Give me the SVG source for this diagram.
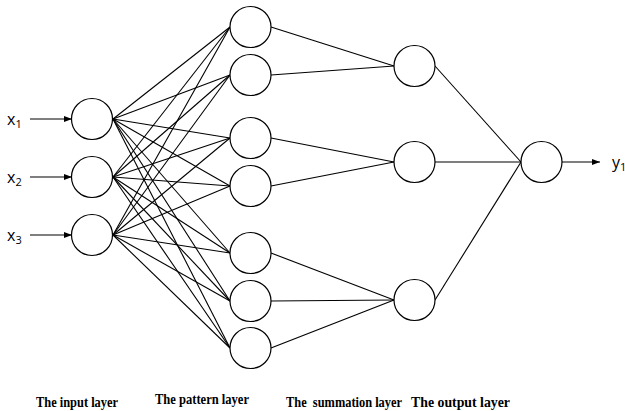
<svg xmlns="http://www.w3.org/2000/svg" width="625" height="411" viewBox="0 0 625 411">
<style>
.n{fill:#fff;stroke:#000;stroke-width:1.2}
.c line{stroke:#000;stroke-width:1.1}
.lab{font-family:"Liberation Serif",serif;font-weight:bold;font-size:14px;fill:#000;white-space:pre}
.v{font-family:"Open Sans","Liberation Sans",sans-serif;font-size:16px;fill:#000}
.s{font-size:11px}
</style>
<defs>
<marker id="ah" viewBox="0 0 8 8" refX="8" refY="4" markerWidth="8" markerHeight="8" markerUnits="userSpaceOnUse" orient="auto">
<path d="M0,1 L8,4 L0,7 Z" fill="#000"/>
</marker>
</defs>
<rect width="625" height="411" fill="#fff"/>
<g class="c" id="connectors">
<line x1="30" y1="119" x2="72" y2="119" marker-end="url(#ah)"/>
<line x1="30" y1="177" x2="72" y2="177" marker-end="url(#ah)"/>
<line x1="30" y1="235" x2="72" y2="235" marker-end="url(#ah)"/>
<line x1="113" y1="119" x2="230" y2="27"/>
<line x1="113" y1="119" x2="230" y2="75"/>
<line x1="113" y1="119" x2="230" y2="138"/>
<line x1="113" y1="119" x2="230" y2="186"/>
<line x1="113" y1="119" x2="230" y2="253"/>
<line x1="113" y1="119" x2="230" y2="301"/>
<line x1="113" y1="119" x2="230" y2="348"/>
<line x1="113" y1="177" x2="230" y2="27"/>
<line x1="113" y1="177" x2="230" y2="75"/>
<line x1="113" y1="177" x2="230" y2="138"/>
<line x1="113" y1="177" x2="230" y2="186"/>
<line x1="113" y1="177" x2="230" y2="253"/>
<line x1="113" y1="177" x2="230" y2="301"/>
<line x1="113" y1="177" x2="230" y2="348"/>
<line x1="113" y1="235" x2="230" y2="27"/>
<line x1="113" y1="235" x2="230" y2="75"/>
<line x1="113" y1="235" x2="230" y2="138"/>
<line x1="113" y1="235" x2="230" y2="186"/>
<line x1="113" y1="235" x2="230" y2="253"/>
<line x1="113" y1="235" x2="230" y2="301"/>
<line x1="113" y1="235" x2="230" y2="348"/>
<line x1="271" y1="27" x2="394" y2="66"/>
<line x1="271" y1="75" x2="394" y2="66"/>
<line x1="271" y1="138" x2="394" y2="162"/>
<line x1="271" y1="186" x2="394" y2="162"/>
<line x1="271" y1="253" x2="394" y2="300"/>
<line x1="271" y1="301" x2="394" y2="300"/>
<line x1="271" y1="348" x2="394" y2="300"/>
<line x1="435" y1="66" x2="521" y2="162"/>
<line x1="435" y1="162" x2="521" y2="162"/>
<line x1="435" y1="300" x2="521" y2="162"/>
<line x1="562" y1="162" x2="600" y2="162" marker-end="url(#ah)"/>
</g>
<g id="input1"><circle class="n" cx="92" cy="119" r="20.5"/></g>
<g id="input2"><circle class="n" cx="92" cy="177" r="20.5"/></g>
<g id="input3"><circle class="n" cx="92" cy="235" r="20.5"/></g>
<g id="pattern1"><circle class="n" cx="250.5" cy="27" r="20.5"/></g>
<g id="pattern2"><circle class="n" cx="250.5" cy="75" r="20.5"/></g>
<g id="pattern3"><circle class="n" cx="250.5" cy="138" r="20.5"/></g>
<g id="pattern4"><circle class="n" cx="250.5" cy="186" r="20.5"/></g>
<g id="pattern5"><circle class="n" cx="250.5" cy="253" r="20.5"/></g>
<g id="pattern6"><circle class="n" cx="250.5" cy="301" r="20.5"/></g>
<g id="pattern7"><circle class="n" cx="250.5" cy="348" r="20.5"/></g>
<g id="sum1"><circle class="n" cx="414.5" cy="66" r="20.5"/></g>
<g id="sum2"><circle class="n" cx="414.5" cy="162" r="20.5"/></g>
<g id="sum3"><circle class="n" cx="414.5" cy="300" r="20.5"/></g>
<g id="output"><circle class="n" cx="541.5" cy="162" r="20.5"/></g>
<g id="vars">
<text class="v" x="7" y="125">x<tspan class="s" dy="3">1</tspan></text>
<text class="v" x="7" y="183">x<tspan class="s" dy="3">2</tspan></text>
<text class="v" x="7" y="241">x<tspan class="s" dy="3">3</tspan></text>
<text class="v" x="612" y="168">y<tspan class="s" dy="3">1</tspan></text>
</g>
<g id="labels">
<text class="lab" x="36" y="406.5" textLength="82" lengthAdjust="spacingAndGlyphs">The input layer</text>
<text class="lab" x="155" y="404" textLength="94" lengthAdjust="spacingAndGlyphs">The pattern layer</text>
<text class="lab" x="286" y="406.5" textLength="116" lengthAdjust="spacingAndGlyphs">The  summation layer</text>
<text class="lab" x="411" y="406.5" textLength="99" lengthAdjust="spacingAndGlyphs">The output layer</text>
</g>
</svg>
